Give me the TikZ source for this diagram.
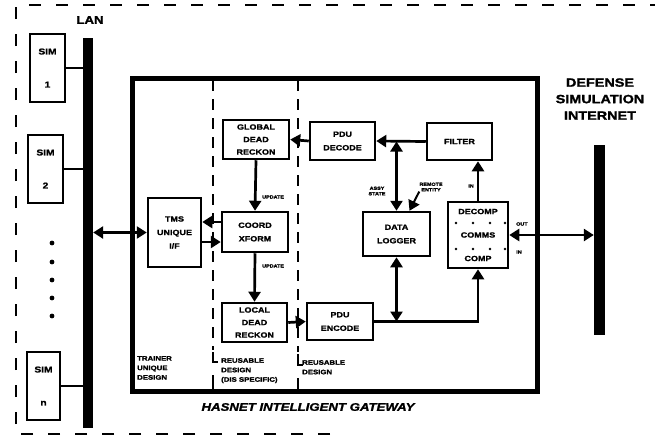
\documentclass[tikz,border=0pt]{standalone}
\usepackage{fontspec}
\setmainfont{Liberation Sans}[FakeStretch=1.2, BoldFeatures={FakeBold=1.6}, BoldItalicFeatures={FakeBold=1.6}]
\usetikzlibrary{arrows.meta,calc}
\begin{document}
\begin{tikzpicture}[x=1pt,y=-1pt,
  box/.style={draw, line width=2.5pt, inner sep=0pt, align=center, font=\bfseries\fontsize{7.5}{13.5}\selectfont},
  simbox/.style={draw, line width=2.5pt, inner sep=0pt, align=center, font=\bfseries\fontsize{8.5}{33}\selectfont, minimum width=35pt, minimum height=68pt},
  bar/.style={fill=black, draw=none, inner sep=0pt},
  arr/.style={line width=2.7pt, -{Triangle[length=10pt,width=12pt]}},
  dbl/.style={line width=2.7pt, {Triangle[length=10pt,width=12pt]}-{Triangle[length=10pt,width=12pt]}},
  ln/.style={line width=2.6pt},
  lbl/.style={font=\bfseries\fontsize{4.5}{5.5}\selectfont, inner sep=0pt, align=center},
  note/.style={font=\bfseries\fontsize{6.5}{9.5}\selectfont, inner sep=0pt, align=left, anchor=north west},
  divider/.style={line width=2.3pt, dash pattern=on 11pt off 8pt},
  border/.style={line width=2.7pt, dash pattern=on 12pt off 15pt},
  title/.style={font=\bfseries\fontsize{12}{16.5}\selectfont, align=center, inner sep=0pt}]

\useasboundingbox (0,0) rectangle (655,437);

% outer dashed boundary
\draw[border] (330,434) -- (16,434) -- (16,5) -- (655,5);

% LAN
\node[bar, minimum width=10pt, minimum height=390pt] (lan) at (88,233) {};
\node[title, font=\bfseries\fontsize{11}{13}\selectfont] (lanlbl) at (90,20) {LAN};

\node[simbox] (sim1) at (47.5,68) {SIM\\1};
\node[simbox] (sim2) at (45.5,169) {SIM\\2};
\node[simbox, minimum width=33pt] (simn) at (43.5,386) {SIM\\n};
\foreach \s in {sim1,sim2,simn} \draw[ln] (\s.east) -- (\s.east -| lan.west);
\foreach \y in {243,262,280,298,316} \fill (52,\y) circle (2.4pt);

% gateway
\node[draw, line width=5pt, minimum width=405pt, minimum height=313pt, inner sep=0pt] (gw) at (334.5,234.5) {};
\node[font=\bfseries\itshape\fontsize{11}{13}\selectfont, inner sep=0pt] (gwlbl) at (308,407) {HASNET INTELLIGENT GATEWAY};

% dividers
\draw[divider] (213,80) -- (213,350);
\draw[line width=2.3pt] (213,352) -- (213,362) -- (218,362);
\draw[line width=2.3pt] (213,375) -- (213,389);
\draw[divider] (298,80) -- (298,352);
\draw[line width=2.3pt] (298,354) -- (298,365) -- (303,365);
\draw[line width=2.3pt] (298,378) -- (298,389);

\node[note] (n1) at (137,356) {TRAINER\\UNIQUE\\DESIGN};
\node[note] (n2) at (221,358) {REUSABLE\\DESIGN\\(DIS SPECIFIC)};
\node[note] (n3) at (302,360) {REUSABLE\\DESIGN};

% boxes
\node[box, minimum width=53pt, minimum height=69pt] (uniq) at (174.5,232.5) {TMS\\UNIQUE\\I/F};
\node[box, minimum width=66pt, minimum height=40pt] (coord) at (255,232) {COORD\\XFORM};
\node[box, minimum width=66pt, minimum height=39pt, font=\bfseries\fontsize{7.5}{12.5}\selectfont] (gdr) at (256,139.5) {GLOBAL\\DEAD\\RECKON};
\node[box, minimum width=65pt, minimum height=39pt, font=\bfseries\fontsize{7.5}{12.5}\selectfont] (ldr) at (254.5,322.5) {LOCAL\\DEAD\\RECKON};
\node[box, minimum width=65pt, minimum height=38pt] (pdud) at (342.5,141) {PDU\\DECODE};
\node[box, minimum width=66pt, minimum height=37pt] (pdue) at (340,321.5) {PDU\\ENCODE};
\node[box, minimum width=65pt, minimum height=37pt] (filter) at (459.5,141.5) {FILTER};
\node[box, minimum width=67pt, minimum height=44pt] (dlog) at (396.5,234) {DATA\\LOGGER};
\node[box, minimum width=60pt, minimum height=66pt, font=\bfseries\fontsize{7.5}{23.5}\selectfont] (comm) at (478,235) {DECOMP\\COMMS\\COMP};
\foreach \x in {456,473,490,505} {\fill (\x,223) circle (1.4pt); \fill (\x,249) circle (1.4pt);}

% DSI
\node[bar, minimum width=11pt, minimum height=190pt] (dsi) at (599.5,240) {};
\node[title] (dsilbl) at (600,99) {DEFENSE\\SIMULATION\\INTERNET};

% connectors
\coordinate (ya) at (0,222);
\coordinate (yb) at (0,242);
\draw[dbl] (uniq.west) -- (uniq.west -| lan.east);
\draw[arr] (coord.west |- ya) -- (uniq.east |- ya);
\draw[arr] (uniq.east |- yb) -- (coord.west |- yb);
\draw[arr] (pdud.west) -- (gdr.east);
\draw[arr] (filter.west) -- (pdud.east);
\draw[dbl] (dlog.north) -- (dlog.north |- filter.west);
\draw[arr] (gdr.south) -- (coord.north);
\draw[arr] (coord.south) -- (ldr.north);
\draw[arr] (ldr.east) -- (pdue.west);
\draw[arr] (pdue.east) -| (comm.south);
\draw[dbl] (dlog.south) -- (dlog.south |- pdue.east);
\draw[arr] (comm.north) -- (comm.north |- filter.south);
\draw[dbl] (comm.east) -- (comm.east -| dsi.west);

% arrow labels
\node[lbl, anchor=west] (u1) at (262,197) {UPDATE};
\node[lbl, anchor=west] (u2) at (262,266) {UPDATE};
\node[lbl] (a1) at (377,191) {ASSY\\STATE};
\node[lbl] (a2) at (431,187) {REMOTE\\ENTITY};
\draw[arr, line width=2pt] (a2.south west) -- ($(dlog.north)+(13,0)$);
\node[lbl, anchor=east] (a3) at (474,186) {IN};
\node[lbl, anchor=west] (o1) at (516,224) {OUT};
\node[lbl, anchor=west] (o2) at (516,252) {IN};
\end{tikzpicture}
\end{document}
